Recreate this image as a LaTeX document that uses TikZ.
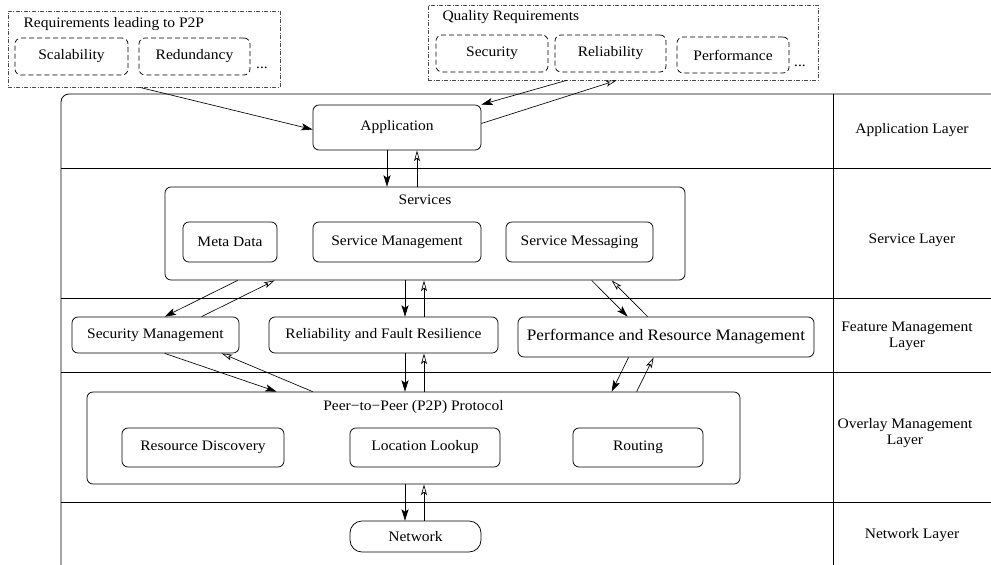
\documentclass[tikz,border=0pt]{standalone}
\usepackage{fontspec}
\setmainfont{Liberation Serif}[FakeStretch=1.07]
\usetikzlibrary{arrows.meta}

\begin{document}
\begin{tikzpicture}[
    x=1pt, y=-1pt,
    font=\fontsize{14.5}{16}\selectfont,
    box/.style={draw, rounded corners=6pt, line width=0.75pt, inner sep=0pt},
    reqbox/.style={draw, dash pattern=on 5pt off 3pt, rounded corners=6pt, line width=0.7pt, inner sep=0pt, minimum height=37},
    group/.style={draw=gray!60!black, line width=0.75pt, inner sep=0pt,
        dash pattern=on 4pt off 1.5pt on 1pt off 1.5pt},
    layer/.style={align=center},
    down/.style={-{Stealth[length=4mm, width=2.5mm, inset=0.9mm]}, line width=0.65pt},
    up/.style={-{Stealth[open, length=3.8mm, width=2.1mm, inset=0.9mm]}, line width=0.65pt}
]
\useasboundingbox (0,0) rectangle (991,565);

% Draw the layer frame
\draw[line width=0.8pt, rounded corners=8pt] (61,94) rectangle (1010,590);
\foreach \y in {168,298,372,502} {
    \draw[line width=0.75pt] (61,\y) -- (1010,\y);
}
\draw[line width=0.75pt] (833,94) -- (833,590);

% Layer names
\node[layer] (lapp) at (912,130) {Application Layer};
\node[layer] (lsvc) at (912,240) {Service Layer};
\node[layer] (lfeat) at (907,336) {Feature Management\\Layer};
\node[layer] (lover) at (905,433) {Overlay Management\\Layer};
\node[layer] (lnet) at (912,535) {Network Layer};

% Requirements on top
\node[group, minimum width=272, minimum height=76] (req) at (144,49) {};
\node[anchor=west] (reqtitle) at (20,24) {Requirements leading to P2P};
\node[reqbox, minimum width=113] (scal) at (71.5,56.5) {Scalability};
\node[reqbox, minimum width=111] (redund) at (194.5,56.5) {Redundancy};
\node (reqdots) at (262,68) {...};

\node[group, minimum width=390, minimum height=75] (qual) at (623,42.5) {};
\node[anchor=west] (qualtitle) at (439,17) {Quality Requirements};
\node[reqbox, minimum width=112] (qsec) at (492,53.5) {Security};
\node[reqbox, minimum width=111] (qrel) at (610.5,53.5) {Reliability};
\node[reqbox, minimum width=112, minimum height=36] (qperf) at (733,55) {Performance};
\node (qualdots) at (800,66) {...};

% Application and services
\node[box, minimum width=168, minimum height=45] (app) at (397,127.5) {Application};
\node[box, minimum width=520, minimum height=93] (svc) at (425,233.5) {};
\node (svctitle) at (425,200) {Services};
\node[box, minimum width=94, minimum height=40] (meta) at (230,242) {Meta Data};
\node[box, minimum width=168, minimum height=40] (smgmt) at (397,242) {Service Management};
\node[box, minimum width=147, minimum height=40] (smsg) at (579.5,242) {Service Messaging};

% Feature management
\node[box, minimum width=167, minimum height=36] (sec) at (155.5,335) {Security Management};
\node[box, minimum width=229, minimum height=36] (rel) at (383.5,335) {Reliability and Fault Resilience};
\node[box, minimum width=296, minimum height=40, font=\fontsize{16}{17}\selectfont] (perf) at (666,337) {Performance and Resource Management};

% Overlay and network
\node[box, minimum width=653, minimum height=92] (p2p) at (413.5,438) {};
\node (p2ptitle) at (413.5,407) {Peer−to−Peer (P2P) Protocol};
\node[box, minimum width=162, minimum height=39] (resdisc) at (203,447.5) {Resource Discovery};
\node[box, minimum width=150, minimum height=39] (lookup) at (425,447.5) {Location Lookup};
\node[box, minimum width=130, minimum height=39] (routing) at (638,447.5) {Routing};
\node[box, rounded corners=12pt, minimum width=131, minimum height=31] (net) at (415.5,536.5) {Network};

% Columns of the vertical arrows
\coordinate (appdn) at (387,0);
\coordinate (appup) at (417,0);
\coordinate (coldn) at (405,0);
\coordinate (colup) at (424,0);

% Requirements to application
\draw[down] ([xshift=132]req.south west) -- ([yshift=-2]app.west);
\draw[down] ([xshift=139]qual.south west) -- (app.north east);
\draw[up] ([yshift=4]app.east) -- ([xshift=189]qual.south west);

% Vertical arrows down the middle
\draw[down] (app.south -| appdn) -- (svc.north -| appdn);
\draw[up] (svc.north -| appup) -- (app.south -| appup);
\draw[down] (svc.south -| coldn) -- (rel.north -| coldn);
\draw[up] (rel.north -| colup) -- (svc.south -| colup);
\draw[down] (rel.south -| coldn) -- (p2p.north -| coldn);
\draw[up] (p2p.north -| colup) -- (rel.south -| colup);
\draw[down] (p2p.south -| coldn) -- (net.north -| coldn);
\draw[up] (net.north -| colup) -- (p2p.south -| colup);

% Security management links
\draw[down] ([xshift=73]svc.south west) -- ([xshift=93]sec.north west);
\draw[up] ([xshift=130]sec.north west) -- ([xshift=110]svc.south west);
\draw[down] ([xshift=93]sec.south west) -- ([xshift=190]p2p.north west);
\draw[up] ([xshift=226]p2p.north west) -- ([xshift=150]sec.south west);

% Performance management links
\draw[down] ([xshift=427]svc.south west) -- ([xshift=110]perf.north west);
\draw[up] ([xshift=130]perf.north west) -- ([xshift=447]svc.south west);
\draw[down] ([xshift=111]perf.south west) -- ([xshift=525]p2p.north west);
\draw[up] ([xshift=550]p2p.north west) -- ([xshift=136]perf.south west);

\end{tikzpicture}
\end{document}
